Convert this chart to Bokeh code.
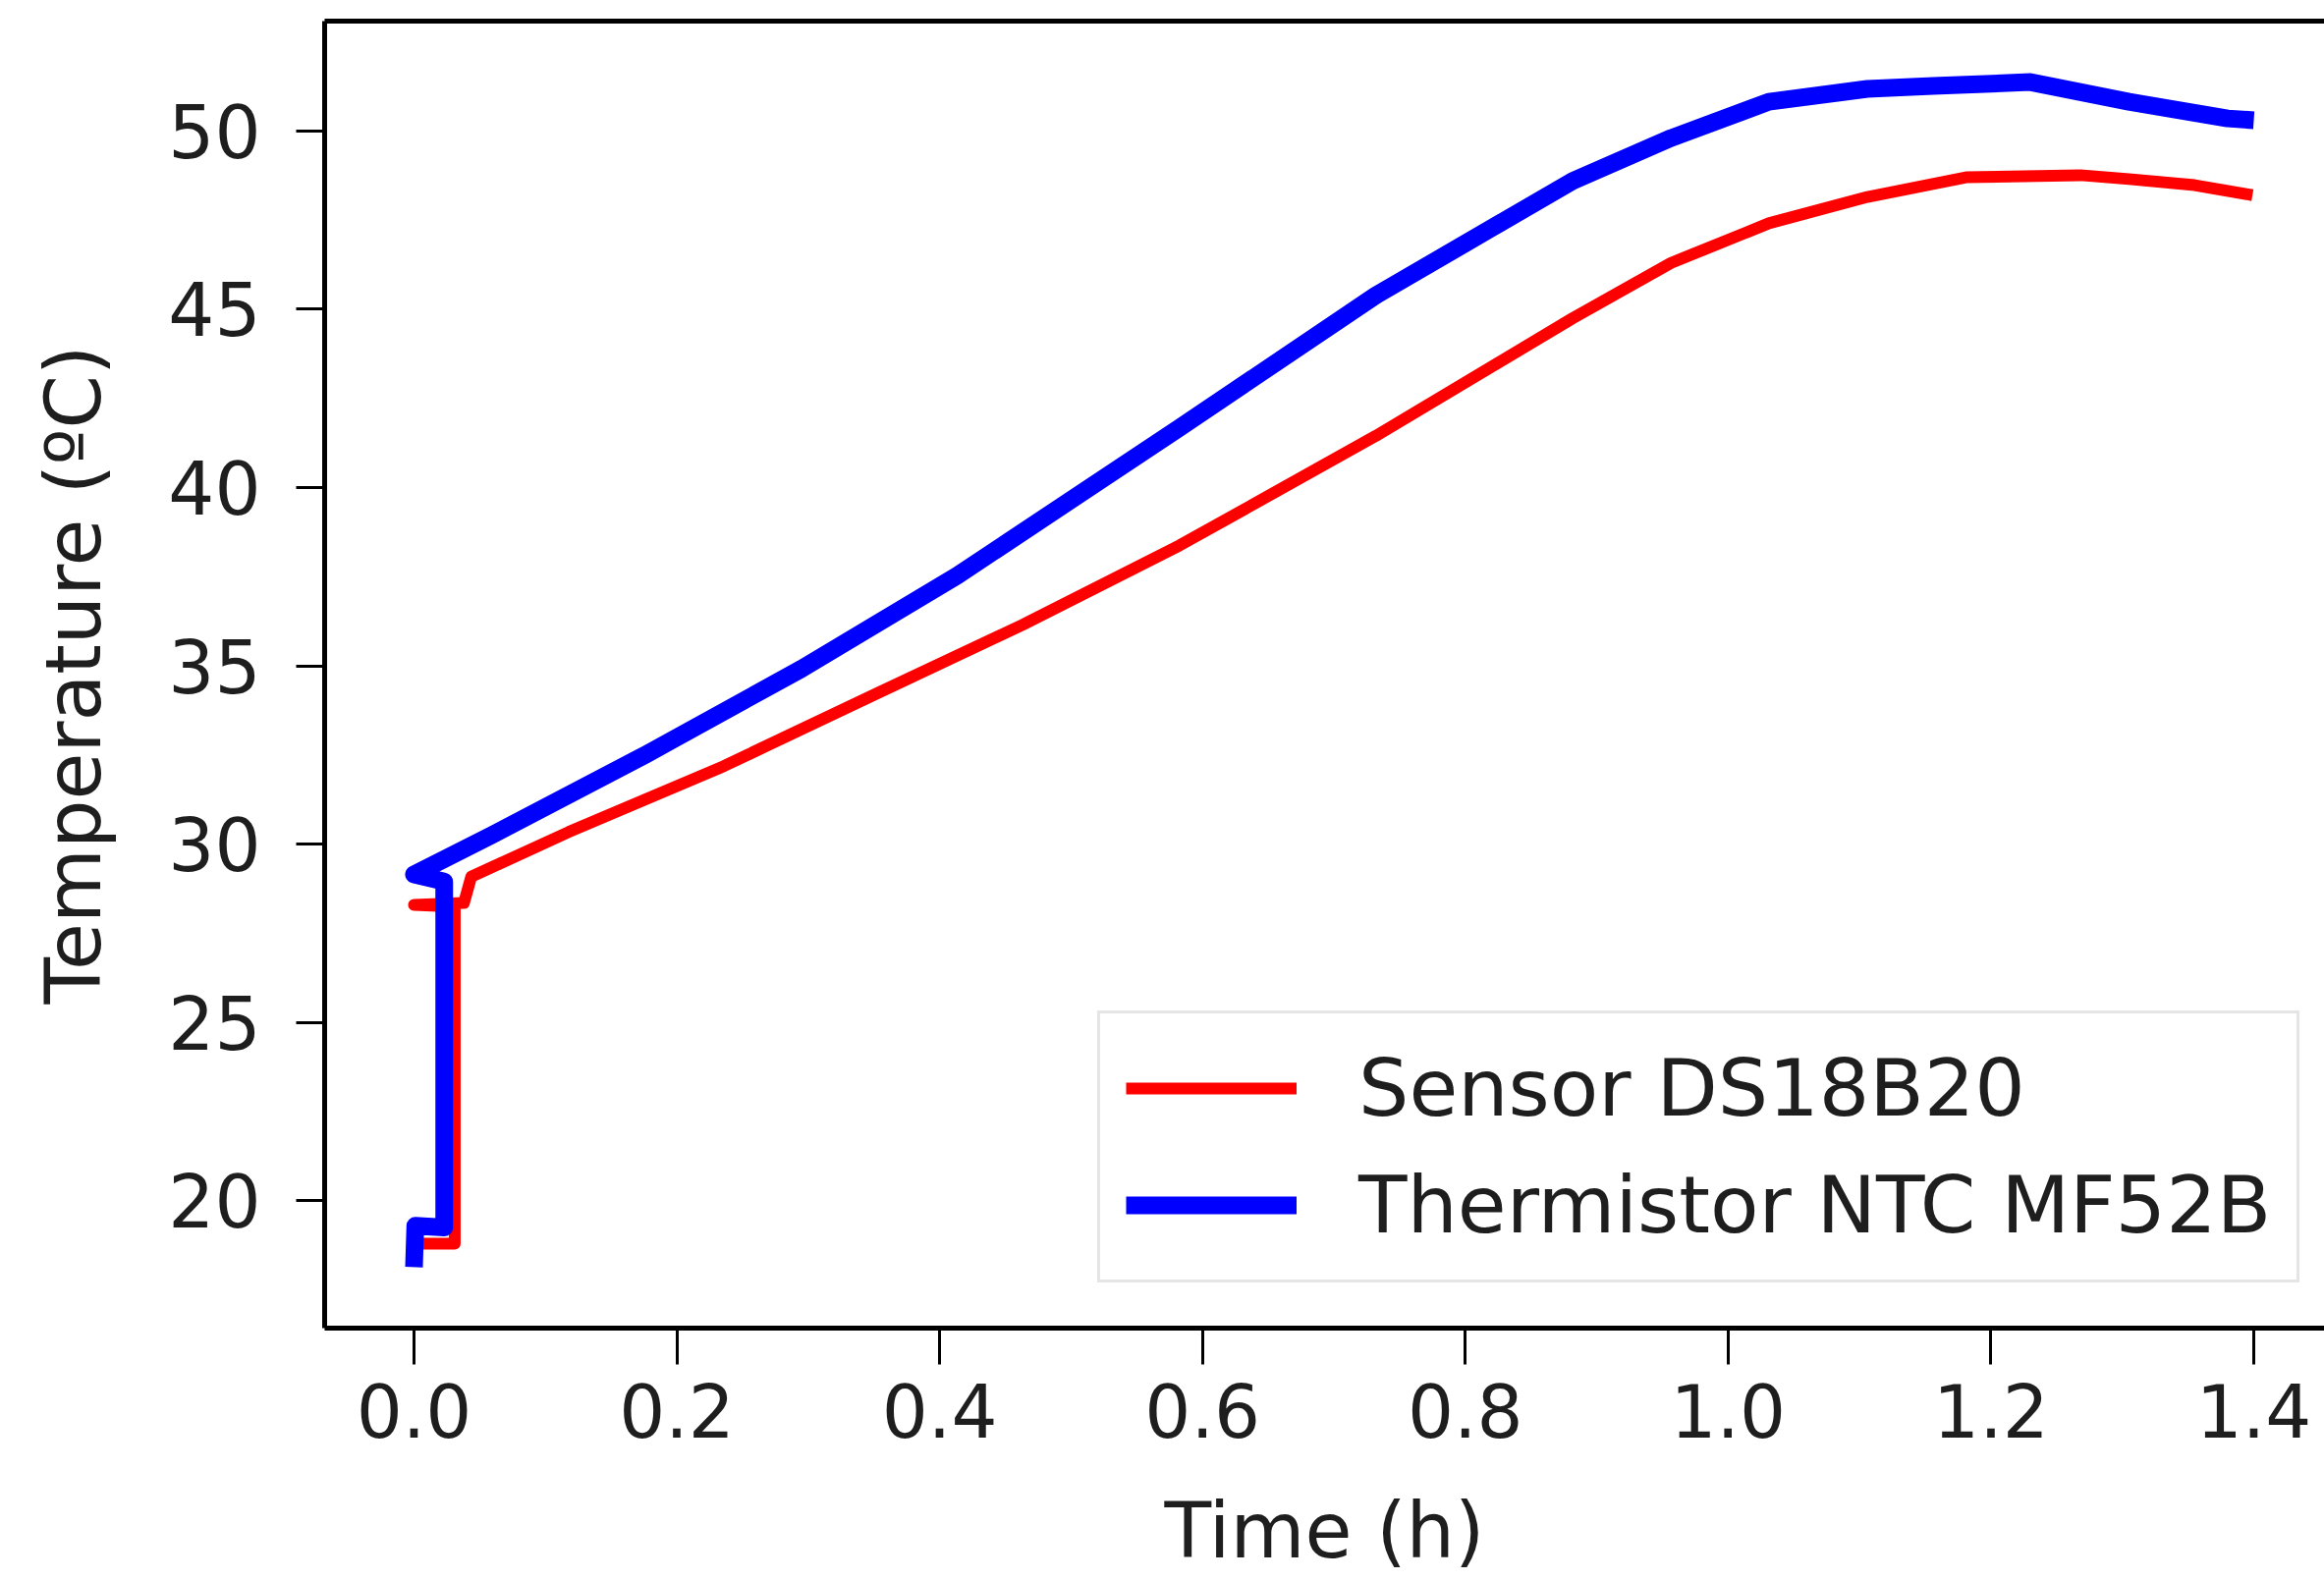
from bokeh.plotting import figure
from bokeh.models import (Range1d, FixedTicker, NumeralTickFormatter, LinearAxis,
                          Legend, LegendItem, ColumnDataSource)
from bokeh.embed import file_html
from bokeh.resources import INLINE

# ---- data ----
series_names = ["Sensor DS18B20", "Thermistor NTC MF52B"]

time_ds18b20 = [0.0, 0.001, 0.031, 0.031, 0.0, 0.038, 0.0436, 0.1176, 0.2358, 0.3541,
                0.463, 0.5827, 0.732, 0.8818, 0.9566, 1.031, 1.106, 1.181, 1.268,
                1.305, 1.355, 1.399]
temp_ds18b20 = [18.33, 18.80, 18.80, 28.25, 28.30, 28.35, 29.09, 30.34, 32.19, 34.26,
                36.15, 38.38, 41.45, 44.75, 46.30, 47.41, 48.15, 48.70, 48.76,
                48.65, 48.48, 48.20]

time_ntc = [0.0, 0.001, 0.023, 0.023, 0.0, 0.0584, 0.1767, 0.2950, 0.4133, 0.5827,
            0.732, 0.8818, 0.9566, 1.031, 1.106, 1.156, 1.230, 1.305, 1.380, 1.400]
temp_ntc = [18.14, 19.30, 19.25, 28.95, 29.15, 30.24, 32.52, 34.92, 37.53, 41.68,
            45.39, 48.60, 49.80, 50.82, 51.18, 51.26, 51.37, 50.82, 50.35, 50.30]

x_ticks = [0.0, 0.2, 0.4, 0.6, 0.8, 1.0, 1.2, 1.4]
y_ticks = [20, 25, 30, 35, 40, 45, 50]
x_label = "Time (h)"
y_label = "Temperature (ºC)"

FONT = "DejaVu Sans"
TXT = "#1e1e1e"

p = figure(width=2366, height=1609, output_backend="svg", toolbar_location=None,
           x_range=Range1d(-0.068, 1.4538), y_range=Range1d(16.43, 53.08),
           min_border_left=330, min_border_top=21, min_border_right=0,
           min_border_bottom=257)
p.background_fill_color = "white"
p.border_fill_color = "white"
p.outline_line_color = None
p.grid.visible = False

src_r = ColumnDataSource(dict(x=time_ds18b20, y=temp_ds18b20))
src_b = ColumnDataSource(dict(x=time_ntc, y=temp_ntc))
r1 = p.line("x", "y", source=src_r, line_color="#ff0000", line_width=12,
            line_join="round")
r2 = p.line("x", "y", source=src_b, line_color="#0000ff", line_width=18,
            line_join="round")

# axes
xa = p.xaxis[0]
xa.ticker = FixedTicker(ticks=x_ticks)
xa.formatter = NumeralTickFormatter(format="0.0")
ya = p.yaxis[0]
ya.ticker = FixedTicker(ticks=y_ticks)

for ax in (xa, ya):
    ax.axis_line_width = 5
    ax.axis_line_color = "black"
    ax.major_tick_line_width = 3
    ax.major_tick_line_color = "black"
    ax.major_tick_in = 0
    ax.minor_tick_line_color = None
    ax.major_label_text_font = FONT
    ax.major_label_text_font_size = "74px"
    ax.major_label_text_color = TXT
    ax.axis_label_text_font = FONT
    ax.axis_label_text_font_size = "78px"
    ax.axis_label_text_font_style = "normal"
    ax.axis_label_text_color = TXT

xa.axis_label = x_label
xa.major_tick_out = 37
xa.major_label_standoff = 19
xa.axis_label_standoff = 47

ya.axis_label = y_label
ya.major_tick_out = 29
ya.major_label_standoff = 36
ya.axis_label_standoff = 48

# top spine
top = LinearAxis(ticker=FixedTicker(ticks=[]), axis_line_width=5,
                 axis_line_color="black", major_tick_out=0, major_tick_in=0,
                 minor_tick_out=0, minor_tick_in=0, major_label_text_font_size="0px")
p.add_layout(top, "above")

legend = Legend(items=[LegendItem(label=series_names[0], renderers=[r1]),
                       LegendItem(label=series_names[1], renderers=[r2])],
                location=(787, 46))
legend.label_text_font = FONT
legend.label_text_font_size = "81px"
legend.label_text_color = TXT
legend.glyph_width = 174
legend.glyph_height = 100
legend.label_height = 100
legend.label_standoff = 63
legend.spacing = 19
legend.padding = 26
legend.margin = 0
legend.border_line_color = "#cccccc"
legend.border_line_width = 3
legend.background_fill_color = "white"
legend.background_fill_alpha = 1.0
p.add_layout(legend, "center")

open("out.html", "w").write(file_html(p, INLINE))
